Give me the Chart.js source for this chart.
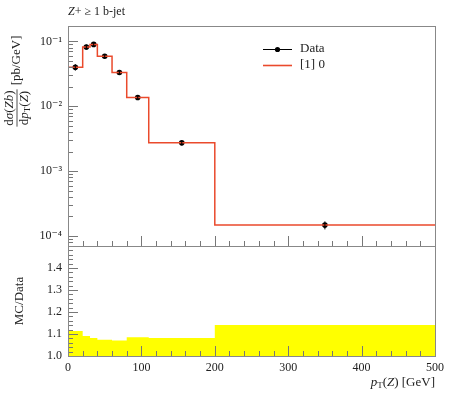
<!DOCTYPE html>
<html>
<head>
<meta charset="utf-8">
<script src="https://cdn.jsdelivr.net/npm/chart.js@4.4.0/dist/chart.umd.min.js"></script>
<style>
html, body { margin: 0; padding: 0; background: #fff; }
#wrap { width: 450px; height: 393px; position: relative; }
</style>
</head>
<body>
<div id="wrap"><canvas id="plot"></canvas></div>
<script>
// histogram binning and values
const binEdges = [0, 20, 30, 40, 60, 80, 110, 200, 500];
const binCenters = [10, 25, 35, 50, 70, 95, 155, 350];
const dataValues = [0.0400, 0.0820, 0.0900, 0.0590, 0.0332, 0.01364, 0.00273, 0.000147];
const mcValues = [0.0400, 0.0820, 0.0900, 0.0590, 0.0332, 0.01364, 0.00273, 0.000147];
// upper edge of the yellow data-uncertainty band in the ratio panel
const ratioBand = [1.114, 1.091, 1.082, 1.074, 1.070, 1.085, 1.082, 1.141];
const xTicks = [0, 100, 200, 300, 400, 500];
const yTicks = [1e-4, 1e-3, 1e-2, 1e-1];
const yTickLabels = ['10⁻⁴', '10⁻³', '10⁻²', '10⁻¹'];
const ratioTicks = [1.0, 1.1, 1.2, 1.3, 1.4];

const SERIF = '"Liberation Serif", "DejaVu Serif", serif';
const RED = '#ea4a2c';

function stepPoints(values) {
    return binEdges.map((e, i) => ({ x: e, y: values[Math.min(i, values.length - 1)] }));
}

function drawPieces(ctx, x, y, pieces) {
    pieces.forEach(p => {
        ctx.font = p.font;
        ctx.fillText(p.t, x, y + (p.dy || 0));
        x += ctx.measureText(p.t).width;
    });
}

function piecesWidth(ctx, pieces) {
    let w = 0;
    pieces.forEach(p => { ctx.font = p.font; w += ctx.measureText(p.t).width; });
    return w;
}

const f13 = '13px ' + SERIF;
const i13 = 'italic 13px ' + SERIF;
const f12 = '12px ' + SERIF;
const i12 = 'italic 12px ' + SERIF;
const f9 = '9px ' + SERIF;

const decorations = {
    id: 'decorations',
    afterDatasetsDraw(chart) {
        const ctx = chart.ctx;
        const xs = chart.scales.x, ys = chart.scales.y, rs = chart.scales.y2;
        ctx.save();
        ctx.strokeStyle = '#777';
        ctx.lineWidth = 1;
        ctx.beginPath();
        // x ticks, inward, on both panels
        for (let v = 0; v <= 500; v += 20) {
            const px = Math.round(xs.getPixelForValue(v)) + 0.5;
            const len = v % 100 === 0 ? 10 : 5;
            [ys.bottom, rs.bottom].forEach(b => {
                ctx.moveTo(px, b);
                ctx.lineTo(px, b - len);
            });
        }
        // log y ticks
        for (let d = -5; d <= 0; d++) {
            for (let m = 1; m <= 9; m++) {
                const v = m * Math.pow(10, d);
                if (v < ys.min || v > ys.max) continue;
                const py = Math.round(ys.getPixelForValue(v)) + 0.5;
                ctx.moveTo(xs.left, py);
                ctx.lineTo(xs.left + (m === 1 ? 10 : 5), py);
            }
        }
        // ratio ticks
        for (let i = 1; i < 25; i++) {
            const py = Math.round(rs.getPixelForValue(1 + i * 0.02)) + 0.5;
            ctx.moveTo(xs.left, py);
            ctx.lineTo(xs.left + (i % 5 === 0 ? 10 : 5), py);
        }
        ctx.stroke();
        // frames
        ctx.strokeStyle = '#888';
        ctx.strokeRect(Math.round(xs.left) + 0.5, Math.round(ys.top) + 0.5, Math.round(xs.right - xs.left), Math.round(ys.bottom - ys.top));
        ctx.strokeRect(Math.round(xs.left) + 0.5, Math.round(rs.top) + 0.5, Math.round(xs.right - xs.left), Math.round(rs.bottom - rs.top));

        // data error bars
        ctx.strokeStyle = '#000';
        ctx.beginPath();
        binCenters.forEach((c, i) => {
            const err = dataValues[i] * (ratioBand[i] - 1);
            const px = xs.getPixelForValue(c);
            ctx.moveTo(px, ys.getPixelForValue(dataValues[i] + err));
            ctx.lineTo(px, ys.getPixelForValue(dataValues[i] - err));
        });
        ctx.stroke();
        ctx.restore();
    },
    afterDraw(chart) {
        const ctx = chart.ctx;
        const xs = chart.scales.x, ys = chart.scales.y, rs = chart.scales.y2;
        ctx.save();
        ctx.fillStyle = '#222';
        ctx.textBaseline = 'middle';
        ctx.textAlign = 'left';

        // title
        drawPieces(ctx, xs.left, 12, [{ t: 'Z', font: i12 }, { t: '+ ≥ 1 b-jet', font: f12 }]);

        // legend
        const lx = 263, lw = 29;
        ctx.strokeStyle = '#000';
        ctx.lineWidth = 1;
        ctx.beginPath();
        ctx.moveTo(lx, 49.5); ctx.lineTo(lx + lw, 49.5);
        ctx.stroke();
        ctx.beginPath();
        ctx.arc(lx + lw / 2, 49.5, 2.6, 0, Math.PI * 2);
        ctx.fillStyle = '#000';
        ctx.fill();
        ctx.strokeStyle = RED;
        ctx.lineWidth = 1.6;
        ctx.beginPath();
        ctx.moveTo(lx, 65.5); ctx.lineTo(lx + lw, 65.5);
        ctx.stroke();
        ctx.fillStyle = '#222';
        ctx.font = f13;
        ctx.fillText('Data', 300, 49);
        ctx.fillText('[1] 0', 300, 65);

        // x axis label, right aligned to the frame
        const xl = [
            { t: 'p', font: i13 }, { t: 'T', font: f9, dy: 3 },
            { t: '(', font: f13 }, { t: 'Z', font: i13 }, { t: ') [GeV]', font: f13 }
        ];
        drawPieces(ctx, xs.right - piecesWidth(ctx, xl), 383, xl);

        // y axis label: fraction + unit, rotated
        ctx.save();
        ctx.translate(17, 108);
        ctx.rotate(-Math.PI / 2);
        const num = [
            { t: 'd', font: f13 }, { t: 'σ', font: i13 }, { t: '(', font: f13 },
            { t: 'Zb', font: i13 }, { t: ')', font: f13 }
        ];
        const den = [
            { t: 'd', font: f13 }, { t: 'p', font: i13 }, { t: 'T', font: f9, dy: 3 },
            { t: '(', font: f13 }, { t: 'Z', font: i13 }, { t: ')', font: f13 }
        ];
        const wn = piecesWidth(ctx, num), wd = piecesWidth(ctx, den);
        const wf = Math.max(wn, wd) + 2;
        drawPieces(ctx, -wn / 2, -7, num);
        drawPieces(ctx, -wd / 2, 8, den);
        ctx.strokeStyle = '#222';
        ctx.lineWidth = 0.8;
        ctx.beginPath();
        ctx.moveTo(-wf / 2, 0); ctx.lineTo(wf / 2, 0);
        ctx.stroke();
        ctx.font = f13;
        ctx.fillText('[pb/GeV]', wf / 2 + 4, 0);
        ctx.restore();

        // ratio label
        ctx.save();
        ctx.translate(20, (rs.top + rs.bottom) / 2);
        ctx.rotate(-Math.PI / 2);
        ctx.textAlign = 'center';
        ctx.font = f13;
        ctx.fillText('MC/Data', 0, 0);
        ctx.restore();
        ctx.restore();
    }
};

const tickFont = { family: SERIF, size: 12 };

new Chart(document.getElementById('plot'), {
    type: 'line',
    data: {
        datasets: [
            {
                label: 'band',
                data: stepPoints(ratioBand),
                yAxisID: 'y2',
                stepped: 'before',
                fill: { value: 1 },
                backgroundColor: '#ffff00',
                borderColor: '#ffff00',
                borderWidth: 0,
                pointRadius: 0
            },
            {
                label: 'ratio',
                data: stepPoints(mcValues.map((v, i) => v / dataValues[i])),
                yAxisID: 'y2',
                stepped: 'before',
                borderColor: RED,
                borderWidth: 1.5,
                pointRadius: 0,
                fill: false
            },
            {
                label: '[1] 0',
                data: stepPoints(mcValues),
                yAxisID: 'y',
                stepped: 'before',
                borderColor: RED,
                borderWidth: 1.5,
                pointRadius: 0,
                fill: false
            },
            {
                label: 'Data',
                data: binCenters.map((c, i) => ({ x: c, y: dataValues[i] })),
                yAxisID: 'y',
                showLine: false,
                pointRadius: 2.8,
                pointBackgroundColor: '#000',
                pointBorderColor: '#000',
                pointBorderWidth: 0
            }
        ]
    },
    options: {
        responsive: true,
        maintainAspectRatio: false,
        animation: false,
        events: [],
        layout: { padding: { top: 26, right: 15, left: 0, bottom: 0 } },
        plugins: { legend: { display: false }, tooltip: { enabled: false } },
        scales: {
            x: {
                type: 'linear',
                min: 0,
                max: 500,
                grid: { display: false, drawTicks: false },
                border: { display: false },
                ticks: { color: '#222', font: tickFont, padding: 5, maxRotation: 0, autoSkip: false },
                afterBuildTicks: s => { s.ticks = xTicks.map(v => ({ value: v })); },
                afterFit: s => { s.height = 37; }
            },
            y2: {
                type: 'linear',
                position: 'left',
                stack: 'panels',
                stackWeight: 1,
                min: 1.0,
                max: 1.5,
                grid: { display: false, drawTicks: false },
                border: { display: false },
                ticks: { color: '#222', font: tickFont, padding: 6, autoSkip: false, callback: v => v.toFixed(1) },
                afterBuildTicks: s => { s.ticks = ratioTicks.map(v => ({ value: v })); },
                afterFit: s => { s.width = 68; }
            },
            y: {
                type: 'logarithmic',
                position: 'left',
                stack: 'panels',
                stackWeight: 2,
                min: 7.5e-5,
                max: 0.173,
                grid: { display: false, drawTicks: false },
                border: { display: false },
                ticks: { color: '#222', font: tickFont, padding: 6, autoSkip: false, callback: (v, i) => yTickLabels[i] },
                afterBuildTicks: s => { s.ticks = yTicks.map(v => ({ value: v })); },
                afterFit: s => { s.width = 68; }
            }
        }
    },
    plugins: [decorations]
});
</script>
</body>
</html>
